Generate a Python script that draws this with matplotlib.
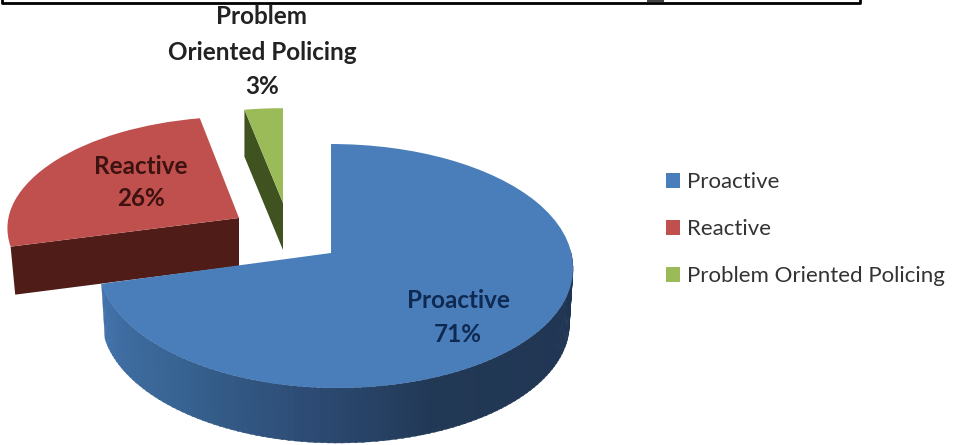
import numpy as np
import matplotlib
matplotlib.use("Agg")
import matplotlib.pyplot as plt
from matplotlib.transforms import Transform
from matplotlib.colors import to_rgb

categories = ["Proactive", "Reactive", "Problem Oriented Policing"]
shares = [71, 26, 3]

top_colors = ["#4a7ebb", "#c0504d", "#9bbb59"]
cut_colors = ["#2c4a72", "#4f1c18", "#3f5220"]
# px geometry per slice: apex x, apex y, y-scale factor, x-scale factor, depth
apex = [(331, 253), (239, 218), (283, 203)]
yscale = [1.0, 0.93, 0.87]
xscale = [1.0, 0.995, 0.98]
depth = [55, 48, 47]
SIDE_T = [194.4, 230, 265, 290, 360]
SIDE_C = ["#4473ac", "#386493", "#2c4a72", "#223956", "#1f3452"]


class Proj(Transform):
    input_dims = output_dims = 2
    has_inverse = False
    is_separable = False

    def __init__(self, ax0, ay0, ys=1.0, dy=0.0, sx=1.0):
        super().__init__()
        self.p = (ax0, ay0, ys, dy, sx)

    def transform_non_affine(self, v):
        v = np.asarray(v, float)
        ax0, ay0, ys, dy, sx = self.p
        x, y = v[:, 0], v[:, 1]
        w = 1 + 0.1066 * y
        bx = np.where(x >= 0, 240.0, 232.0) * sx
        X = bx * x / w
        Y = 120.6 * y / w * ys
        shear = np.where(Y < 0, -0.045 * Y, 0)
        return np.column_stack([ax0 + X + shear, ay0 - Y + dy])


fig = plt.figure(figsize=(9.64, 4.45), dpi=100)
ax = fig.add_axes([0, 0, 1, 1])
plt.rcParams["font.family"] = ["Lato", "DejaVu Sans"]
wedges, _ = ax.pie(shares, startangle=90, counterclock=False, colors=top_colors)
ax.set_aspect("auto")
ax.set_xlim(0, 964)
ax.set_ylim(445, 0)
ax.axis("off")


def ring(p, t):
    r = np.radians(t)
    return p.transform_non_affine(np.column_stack([np.cos(r), np.sin(r)]))


for i, w in enumerate(wedges):
    w.set_transform(Proj(apex[i][0], apex[i][1], yscale[i], 0.0, xscale[i]) + ax.transData)
    w.set_zorder({0: 5, 1: 3, 2: 2}[i])
    w.set_edgecolor("none")

# cut faces of the exploded slices: the edge of each slice that faces the viewer
for i in (1, 2):
    a = max(wedges[i].theta1, wedges[i].theta2) % 360
    top = Proj(apex[i][0], apex[i][1], yscale[i], 0.0, xscale[i])
    bot = Proj(apex[i][0], apex[i][1], yscale[i], depth[i], xscale[i] * (0.98 if i == 1 else 1.0))
    e = np.array([[0.0, 0.0], [np.cos(np.radians(a)), np.sin(np.radians(a))]])
    poly = np.vstack([top.transform_non_affine(e), bot.transform_non_affine(e)[::-1]])
    ax.fill(poly[:, 0], poly[:, 1], color=cut_colors[i], lw=0, zorder=wedges[i].get_zorder() - 0.5)

# outer rim of the large slice
top_p = Proj(apex[0][0], apex[0][1])
bot_p = Proj(apex[0][0], apex[0][1], 1.0, depth[0], 0.985)
ts = np.arange(SIDE_T[0], 361.0, 1.5)
side_rgb = np.array([to_rgb(c) for c in SIDE_C])
for t0, t1 in zip(ts[:-1], ts[1:]):
    seg = np.array([t0, t1 + 0.4])
    a, b = ring(top_p, seg), ring(bot_p, seg)
    poly = np.vstack([a, b[::-1]])
    col = [np.interp(t0, SIDE_T, side_rgb[:, k]) for k in range(3)]
    ax.fill(poly[:, 0], poly[:, 1], color=col, lw=0.3, zorder=4)

# labels
LABEL_SIZE = 17.5
for x, y, s, c in [
    (458, 300, "Proactive", "#0f2a52"),
    (458, 335, "71%", "#0f2a52"),
    (141, 166, "Reactive", "#3d1210"),
    (141, 199, "26%", "#3d1210"),
    (262, 17, "Problem", "#222222"),
    (262, 52, "Oriented Policing", "#222222"),
    (262, 87, "3%", "#222222"),
]:
    ax.text(x, y, s, ha="center", va="center", fontsize=LABEL_SIZE, fontweight="bold", color=c, zorder=6)

leg = ax.legend(wedges, categories, loc="upper left", bbox_to_anchor=(645.5 / 964, 1 - 152 / 445),
                frameon=False, fontsize=16, handlelength=0.65, handleheight=0.65,
                handletextpad=0.32, labelspacing=1.22, labelcolor="#333333")

# clipped frame of the text box above the chart
ax.plot([2, 2, 860, 860], [-2, 3, 3, -2], color="black", lw=2, clip_on=True, zorder=7)
ax.fill([647, 664, 664, 647], [0, 0, 1.5, 1.5], color="#444444", lw=0, zorder=7)

fig.savefig("out.png", dpi=100)
